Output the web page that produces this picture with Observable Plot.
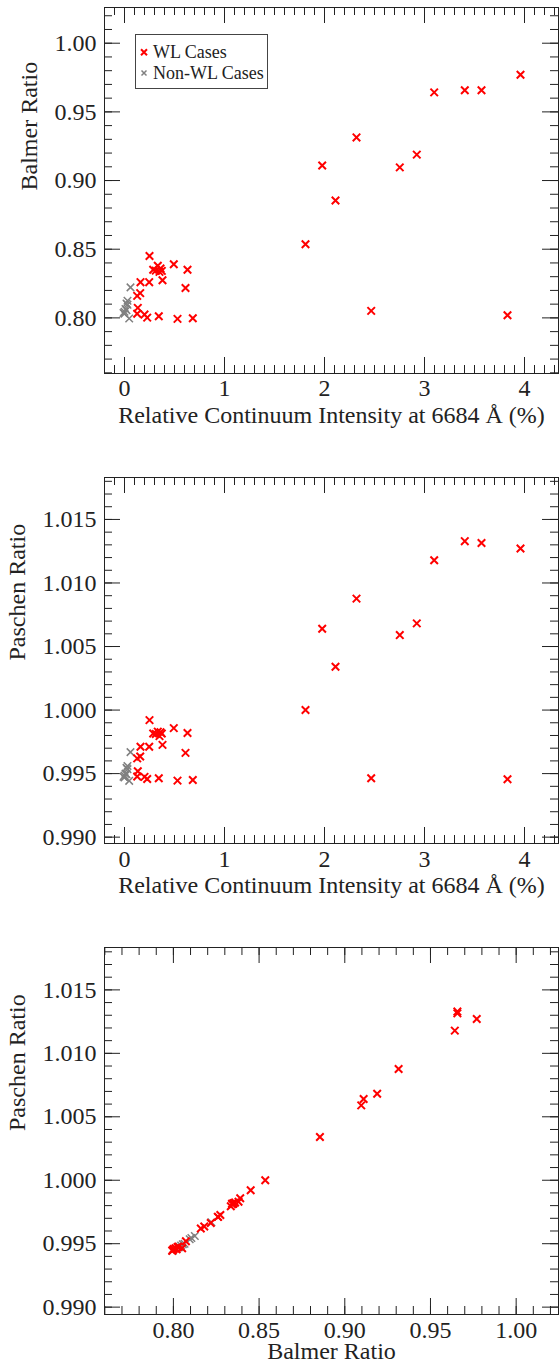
<!DOCTYPE html>
<html><head><meta charset="utf-8">
<script src="https://cdn.jsdelivr.net/npm/d3@7"></script>
<script src="https://cdn.jsdelivr.net/npm/@observablehq/plot@0.6"></script>
<style>
html,body{margin:0;padding:0;background:#fff;}
#chart{position:relative;width:559px;font-family:Liberation Serif, serif;}
#chart svg{display:block;}
.legend{position:absolute;left:135px;top:34px;width:131px;height:53px;border:1px solid #444;background:#fff;font-size:18px;color:#222;}
.legend .lab{position:absolute;left:17px;line-height:18px;white-space:nowrap;}
.legend svg{position:absolute;left:0;top:0;}
</style></head><body><div id="chart"></div>
<script>
// ---- data ----
const wlCont    = [0.25, 0.493, 0.63, 0.333, 0.287, 0.313, 0.36, 0.373, 0.35, 0.38, 0.16, 0.247, 0.157, 0.127, 0.61, 0.133, 0.127, 0.20, 0.227, 0.343, 0.53, 0.683, 1.81, 1.977, 2.11, 2.32, 2.467, 2.753, 2.923, 3.097, 3.403, 3.57, 3.83, 3.96];
const wlBalmer  = [0.8451, 0.839, 0.835, 0.838, 0.835, 0.8344, 0.836, 0.8342, 0.8335, 0.8274, 0.826, 0.826, 0.818, 0.816, 0.8218, 0.8073, 0.803, 0.8024, 0.8002, 0.8012, 0.7993, 0.7997, 0.8536, 0.911, 0.8855, 0.9314, 0.8051, 0.9096, 0.9189, 0.9642, 0.9657, 0.9657, 0.8019, 0.977];
const wlPaschen = [0.99921, 0.99858, 0.99819, 0.99830, 0.99815, 0.99812, 0.99825, 0.99815, 0.99795, 0.99726, 0.99711, 0.99711, 0.99635, 0.99620, 0.99663, 0.99519, 0.99477, 0.99474, 0.99458, 0.99464, 0.99445, 0.99450, 1.00000, 1.00640, 1.00341, 1.00877, 0.99464, 1.00590, 1.00682, 1.01179, 1.01329, 1.01315, 0.99456, 1.01271];

const nonCont    = [0.06, 0.03, 0.02, 0.03, 0.01, 0.00, -0.01, 0.02, 0.00, 0.047];
const nonBalmer  = [0.8222, 0.8125, 0.8105, 0.8095, 0.8065, 0.8045, 0.8035, 0.8055, 0.8030, 0.7995];
const nonPaschen = [0.99669, 0.99560, 0.99545, 0.99535, 0.99500, 0.99485, 0.99475, 0.99495, 0.99470, 0.99443];

const contTicks    = [0, 1, 2, 3, 4];
const balmerTicks  = [0.80, 0.85, 0.90, 0.95, 1.00];
const paschenTicks = [0.990, 0.995, 1.000, 1.005, 1.010, 1.015];

const contLabel    = "Relative Continuum Intensity at 6684 Å (%)";
const balmerLabel  = "Balmer Ratio";
const paschenLabel = "Paschen Ratio";
const legendLabels = ["WL Cases", "Non-WL Cases"];

// ---- tables built from the arrays ----
const wl  = wlCont.map((c, i) => ({cont: c, balmer: wlBalmer[i], paschen: wlPaschen[i]}));
const non = nonCont.map((c, i) => ({cont: c, balmer: nonBalmer[i], paschen: nonPaschen[i]}));

const contMinor    = d3.range(-2, 44).map(i => i / 10);
const balmerMinor  = d3.range(76, 103).map(i => i / 100);
const paschenMinor = d3.range(990, 1019).map(i => i / 1000);

const FONT = "Liberation Serif, serif";
const INK = "#222";

function panel(o) {
  const W = 559, mL = 104, mR = 1, mT = 7;
  const fh = o.height - mT - o.marginBottom;
  const fw = W - mL - mR;
  const MAJ = 16, MIN = 8;
  const ts = {stroke: INK, strokeWidth: 1};
  const tx = {fontSize: 24, fontFamily: FONT, lineAnchor: "middle", fill: INK};
  const svg = Plot.plot({
    width: W, height: o.height,
    marginLeft: mL, marginRight: mR, marginTop: mT, marginBottom: o.marginBottom,
    style: {fontFamily: FONT, background: "white", overflow: "visible"},
    x: {domain: o.xDomain, axis: null},
    y: {domain: o.yDomain, axis: null},
    marks: [
      Plot.tickX(o.xMajor, {x: d => d, insetTop: fh - MAJ, ...ts}),
      Plot.tickX(o.xMinor, {x: d => d, insetTop: fh - MIN, ...ts}),
      Plot.tickX(o.xMajor, {x: d => d, insetBottom: fh - MAJ, ...ts}),
      Plot.tickX(o.xMinor, {x: d => d, insetBottom: fh - MIN, ...ts}),
      Plot.tickY(o.yMajor, {y: d => d, insetRight: fw - MAJ, ...ts}),
      Plot.tickY(o.yMinor, {y: d => d, insetRight: fw - MIN, ...ts}),
      Plot.tickY(o.yMajor, {y: d => d, insetLeft: fw - MAJ, ...ts}),
      Plot.tickY(o.yMinor, {y: d => d, insetLeft: fw - MIN, ...ts}),
      Plot.frame({stroke: INK, strokeWidth: 1}),
      Plot.dot(non, {x: o.xKey, y: o.yKey, symbol: "times", r: 3.5, stroke: "#808080", strokeWidth: 1.5}),
      Plot.dot(wl, {x: o.xKey, y: o.yKey, symbol: "times", r: 3.5, stroke: "#ff0000", strokeWidth: 2}),
      Plot.text(o.xMajor, {x: d => d, frameAnchor: "bottom", dy: o.xTickDy, text: o.xFmt, ...tx}),
      Plot.text(o.yMajor, {y: d => d, frameAnchor: "left", dx: -8, textAnchor: "end", text: o.yFmt, ...tx}),
      Plot.text([o.xLabel], {frameAnchor: "bottom", dy: o.xLabelDy, text: d => d, ...tx}),
      Plot.text([o.yLabel], {frameAnchor: "left", dx: o.yLabelDx, rotate: -90, text: d => d, ...tx})
    ]
  });
  d3.select(svg).attr("font-family", FONT)
    .selectAll("text, g")
    .attr("font-family", FONT)
    .style("font-family", FONT);
  return svg;
}

const chart = document.getElementById("chart");

chart.appendChild(panel({
  xKey: "cont", yKey: "balmer",
  xDomain: [-0.2, 4.34], yDomain: [0.7595, 1.026],
  xMajor: contTicks, xMinor: contMinor, yMajor: balmerTicks, yMinor: balmerMinor,
  xFmt: d3.format("d"), yFmt: d3.format(".2f"),
  xLabel: contLabel, yLabel: balmerLabel,
  height: 470, marginBottom: 97, xTickDy: 14.5, xLabelDy: 42, yLabelDx: -75
}));

chart.appendChild(panel({
  xKey: "cont", yKey: "paschen",
  xDomain: [-0.2, 4.34], yDomain: [0.9895, 1.0183],
  xMajor: contTicks, xMinor: contMinor, yMajor: paschenTicks, yMinor: paschenMinor,
  xFmt: d3.format("d"), yFmt: d3.format(".3f"),
  xLabel: contLabel, yLabel: paschenLabel,
  height: 470, marginBottom: 97, xTickDy: 15.4, xLabelDy: 41.6, yLabelDx: -87
}));

chart.appendChild(panel({
  xKey: "balmer", yKey: "paschen",
  xDomain: [0.7598, 1.0247], yDomain: [0.98942, 1.01834],
  xMajor: balmerTicks, xMinor: balmerMinor, yMajor: paschenTicks, yMinor: paschenMinor,
  xFmt: d3.format(".2f"), yFmt: d3.format(".3f"),
  xLabel: balmerLabel, yLabel: paschenLabel,
  height: 425, marginBottom: 51, xTickDy: 16, xLabelDy: 37, yLabelDx: -87
}));

// ---- legend (overlay on first panel) ----
const lg = document.createElement("div");
lg.className = "legend";
lg.innerHTML =
  '<svg width="131" height="53">' +
  '<path d="M5,14.3L11,20.3M11,14.3L5,20.3" stroke="#ff0000" stroke-width="2" fill="none"/>' +
  '<path d="M5.5,35.5L10.5,40.5M10.5,35.5L5.5,40.5" stroke="#808080" stroke-width="1.5" fill="none"/>' +
  '</svg>' +
  '<div class="lab" style="top:8px">' + legendLabels[0] + '</div>' +
  '<div class="lab" style="top:29px">' + legendLabels[1] + '</div>';
chart.appendChild(lg);
</script>
</body></html>
